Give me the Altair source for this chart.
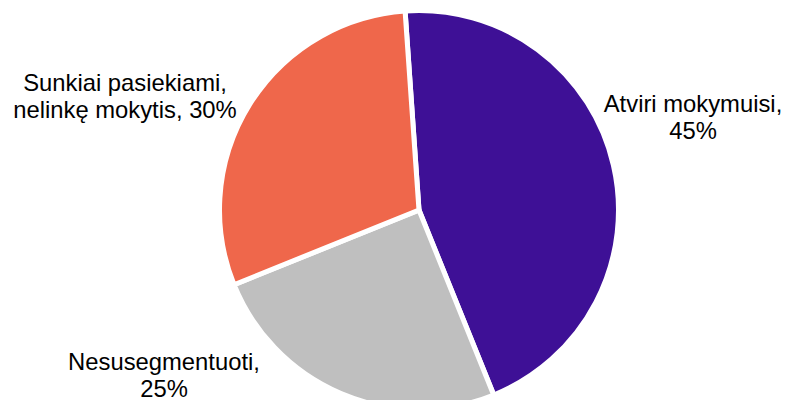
import math
import altair as alt
import pandas as pd

categories = ["Atviri mokymuisi", "Nesusegmentuoti", "Sunkiai pasiekiami, nelinkę mokytis"]
values = [45, 25, 30]
colors = ["#3E1096", "#BFBFBF", "#EF674B"]
label_texts = [
    "Atviri mokymuisi,\n45%",
    "Nesusegmentuoti,\n25%",
    "Sunkiai pasiekiami,\nnelinkę mokytis, 30%",
]

df = pd.DataFrame({
    "cat": categories,
    "value": values,
    "order": list(range(len(categories))),
    "label": label_texts,
})

start = -4 * math.pi / 180
cx, cy = 411, 202

pie = alt.Chart(df).mark_arc(radius=199.5, stroke="white", strokeWidth=5).encode(
    theta=alt.Theta("value:Q", stack=True,
                    scale=alt.Scale(range=[start, start + 2 * math.pi])),
    color=alt.Color("cat:N", scale=alt.Scale(domain=categories, range=colors), legend=None),
    order=alt.Order("order:Q"),
    x=alt.value(cx),
    y=alt.value(cy),
)

label_pos = [(685, 103.5), (156, 362), (117, 82.5)]
layers = [pie]
for cat, (lx, ly) in zip(categories, label_pos):
    layers.append(
        alt.Chart(df).transform_filter(alt.datum.cat == cat).mark_text(
            lineBreak="\n", align="center", baseline="alphabetic",
            font="Liberation Sans", fontSize=23.8, lineHeight=27, color="#000000",
        ).encode(text="label:N", x=alt.value(lx), y=alt.value(ly))
    )

chart = alt.layer(*layers).properties(
    width=774, height=392, padding=0, autosize="none", background="white"
).configure_view(stroke=None)

chart.save("out.html", embed_options={"renderer": "svg", "actions": False})
